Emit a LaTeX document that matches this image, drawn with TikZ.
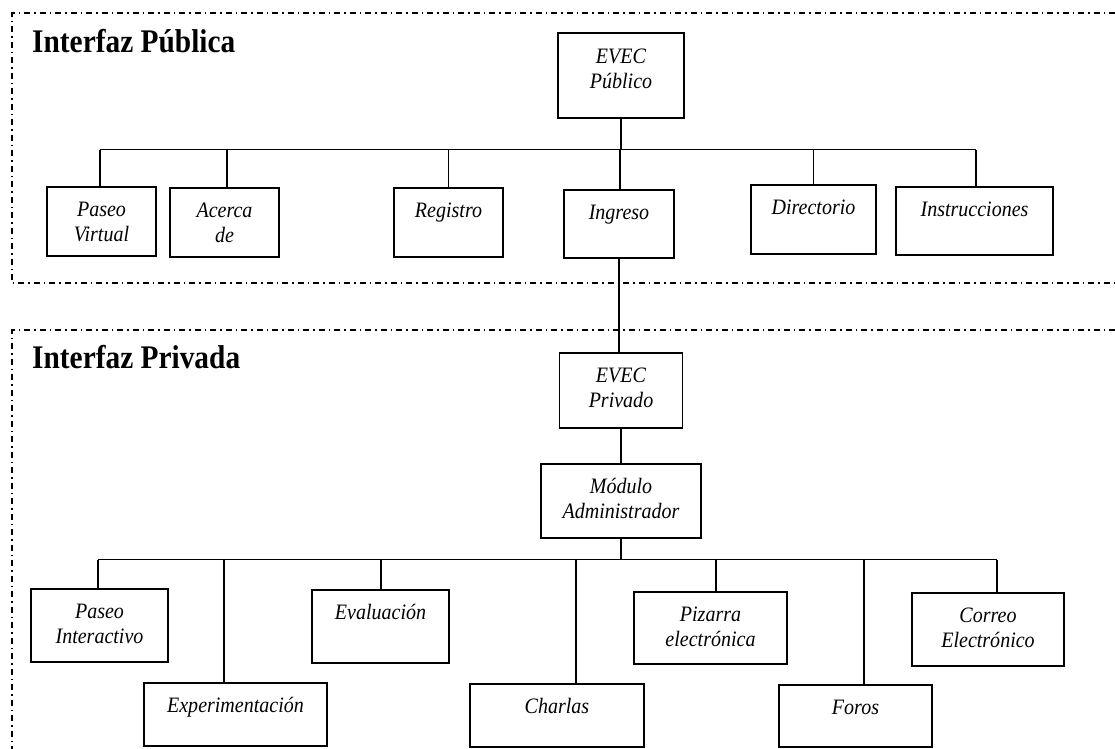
\documentclass[tikz,border=0pt]{standalone}
\usepackage{fontspec}
\setmainfont{Liberation Serif}
\newfontfamily\modfont{Liberation Serif}[FakeStretch=0.91]
\newfontfamily\headfont{Liberation Serif}[FakeStretch=0.89]

\tikzstyle{module}=[draw, line width=1.5pt, anchor=north, align=center, inner xsep=0pt, inner ysep=0pt, text height=30pt, font=\modfont\itshape\fontsize{22}{25}\selectfont]
\tikzstyle{heading}=[anchor=base west, inner sep=0pt, font=\headfont\bfseries\fontsize{33}{38}\selectfont]
\tikzstyle{frame}=[line width=1.2pt, dash pattern=on 6pt off 4pt on 1.5pt off 4pt]
\tikzstyle{link}=[line width=1.3pt]

\begin{document}
\begin{tikzpicture}[x=1pt, y=-1pt]
				\useasboundingbox (0,0) rectangle (1115,748);

				% Frames of both interfaces
				\draw[frame] (1115,13) -- (12,13) -- (12,283) -- (1115,283);
				\draw[frame] (1115,330) -- (12,330) -- (12,760);

				\node[heading] (tpub) at (32,52) {Interfaz Pública};
				\node[heading] (tpriv) at (32,368) {Interfaz Privada};

				% Public interface
				\node[module, text width=126pt, text height=31pt, text depth=54pt] (evecpub) at (621,32) {EVEC\\Público};

				\node[module, text width=109pt, text depth=39pt] (paseov) at (101.5,186) {Paseo\\Virtual};
				\node[module, text width=109pt, text depth=39pt] (acerca) at (224.5,187) {Acerca\\de};
				\node[module, text width=109pt, text depth=39pt] (registro) at (448.5,187) {Registro};
				\node[module, text width=110pt, text depth=38pt] (ingreso) at (619,189) {Ingreso};
				\node[module, text width=125pt, text depth=39pt] (directorio) at (813.5,184) {Directorio};
				\node[module, text width=157pt, text depth=38pt] (instruc) at (974.5,186) {Instrucciones};

				\draw[link] (evecpub.south) -- ++(0,31) coordinate (pubbus);
				\draw[link] ([xshift=-1.5pt]paseov.north |- pubbus) -- ([xshift=1.5pt]instruc.north |- pubbus);
				\foreach \n/\dx in {paseov/-1.5, acerca/2.5, registro/0, ingreso/1, directorio/0, instruc/1.5}{
					\path ([xshift=\dx pt]\n.north) coordinate (top);
					\draw[link] (top) -- (top |- pubbus);
				}

				% Private interface
				\node[module, text width=123pt, text height=30pt, text depth=45pt] (evecpriv) at (621,352) {EVEC\\Privado};
				\node[module, text width=160pt, text depth=44pt] (modulo) at (621,463) {Módulo\\Administrador};

				\draw[link] (ingreso.south) -- (ingreso.south |- evecpriv.north);
				\draw[link] (evecpriv.south) -- (modulo.north);

				\node[module, text width=137pt, text depth=43pt] (paseoi) at (99.5,588) {Paseo\\Interactivo};
				\node[module, text width=137pt, text depth=43pt] (evaluacion) at (380.5,589) {Evaluación};
				\node[module, text width=153pt, text depth=42pt] (pizarra) at (710.5,591) {Pizarra\\electrónica};
				\node[module, text width=152pt, text depth=43pt] (correo) at (988,592) {Correo\\Electrónico};

				\node[module, text width=183pt, text depth=33pt] (experim) at (235.5,682) {Experimentación};
				\node[module, text width=174pt, text depth=33pt] (charlas) at (557,683) {Charlas};
				\node[module, text width=153pt, text depth=32pt] (foros) at (855.5,684) {Foros};

				\draw[link] (modulo.south) -- ++(0,21) coordinate (privbus);
				\draw[link] ([xshift=-1.5pt]paseoi.north |- privbus) -- ([xshift=9pt]correo.north |- privbus);
				\foreach \n/\dx in {paseoi/-1.5, experim/-11.5, evaluacion/0.5, charlas/19, pizarra/5.5, foros/8.5, correo/9}{
					\path ([xshift=\dx pt]\n.north) coordinate (top);
					\draw[link] (top) -- (top |- privbus);
				}
			\end{tikzpicture}
\end{document}
